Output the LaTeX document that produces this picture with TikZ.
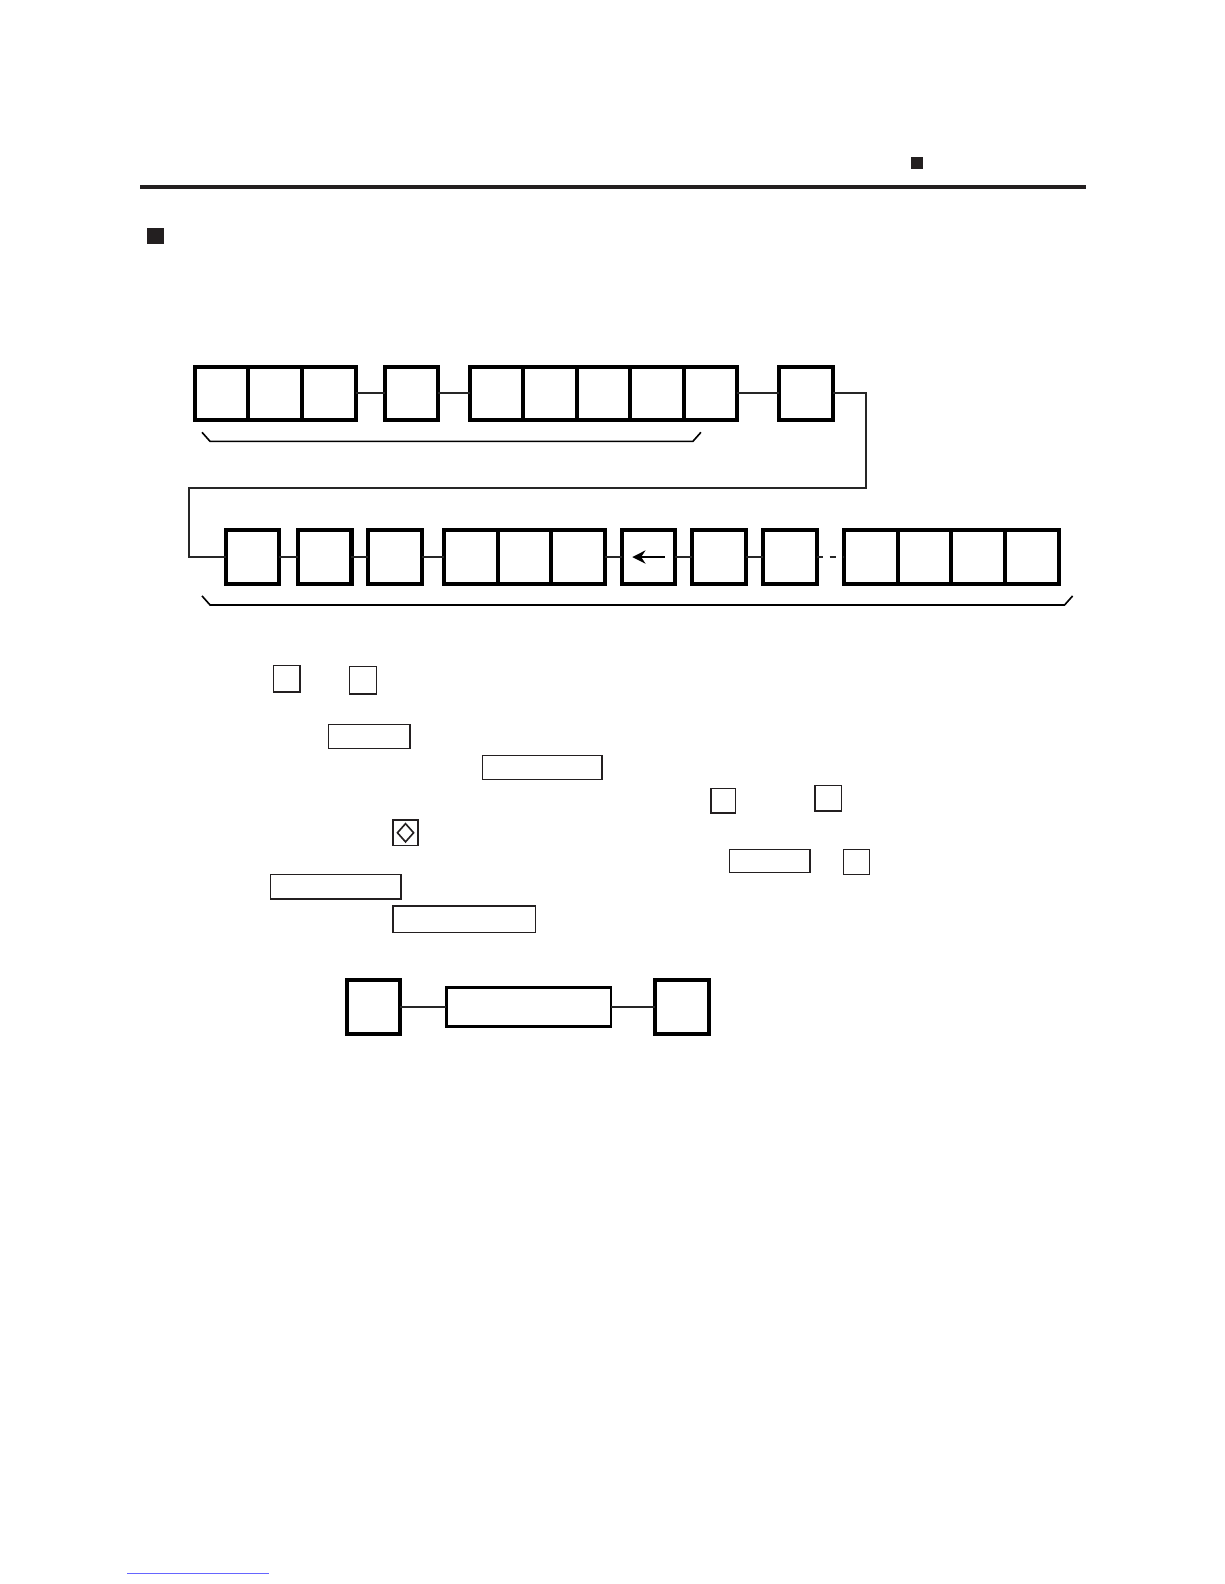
\documentclass[tikz,border=0pt]{standalone}
\usetikzlibrary{arrows.meta}
\definecolor{ink}{HTML}{231F20}
\begin{document}
\begin{tikzpicture}[x=0.5bp,y=-0.5bp,
  cell/.style={draw=black,line width=2bp,minimum width=26.5bp,minimum height=26.5bp,inner sep=0pt,outer sep=0pt},
  keybox/.style={draw=ink,line width=0.65bp,inner sep=0pt,outer sep=0pt},
  wire/.style={line width=1bp,draw=black!85},
  bullet/.style={fill=ink,draw=none,inner sep=0pt,outer sep=0pt}]
\useasboundingbox (0,0) rectangle (1211.9,1568.3);
% header
\node[bullet,minimum size=6bp] (hb) at (908,161) {};
\fill[ink] (139,183) rectangle (1075,187.5);
\node[bullet,minimum size=8bp] (sb) at (154,234) {};
% top row
\foreach \n/\x in {t1/219.5,t2/272.5,t3/325.5,t4/407.5,t5/491.5,t6/544.5,t7/597.5,t8/650.5,t9/703.5,t10/798}
  \node[cell] (\n) at (\x,389.5) {};
\draw[wire] (t3.east) -- (t4.west);
\draw[wire] (t4.east) -- (t5.west);
\draw[wire] (t9.east) -- (t10.west);
\coordinate (c1) at (857,389.5);
\coordinate (c2) at (857,483);
\coordinate (c3) at (187,483);
% bottom row
\foreach \n/\x in {b1/250,b2/321.5,b3/391,b4/466.5,b5/519.5,b6/572.5,b7/642,b8/712,b9/782,b10/862.5,b11/915.5,b12/968.5,b13/1022}
  \node[cell] (\n) at (\x,551.5) {};
\draw[wire] (t10.east) -- (c1) -- (c2) -- (c3) |- (b1.west);
\draw[wire] (b1.east) -- (b2.west);
\draw[wire] (b2.east) -- (b3.west);
\draw[wire] (b3.east) -- (b4.west);
\draw[wire] (b6.east) -- (b7.west);
\draw[wire] (b7.east) -- (b8.west);
\draw[wire] (b8.east) -- (b9.west);
\draw[wire,dash pattern=on 3bp off 3.5bp] (b9.east) -- (b10.west);
\draw[line width=1.3bp,-{Stealth[length=6.5bp,width=6.5bp]}] ([xshift=8bp]b7.center) -- ([xshift=-8bp]b7.center);
% braces
\draw[line width=0.8bp] (200,428) -- (208,437) -- (686,437) -- (694,428);
\draw[line width=0.8bp] (200,590) -- (208,599) -- (1054,599) -- (1062,590);
% small key boxes
\node[keybox,minimum width=13bp,minimum height=13bp] (k1) at (284,672) {};
\node[keybox,minimum width=13.5bp,minimum height=13.5bp] (k2) at (359.5,673.5) {};
\node[keybox,minimum width=40.5bp,minimum height=12bp] (k3) at (365.5,729) {};
\node[keybox,minimum width=59bp,minimum height=12bp] (k4) at (537,760) {};
\node[keybox,minimum width=12bp,minimum height=12bp] (k5) at (716,793) {};
\node[keybox,minimum width=13bp,minimum height=12.5bp] (k6) at (820,790.5) {};
\node[keybox,minimum width=12.5bp,minimum height=12.5bp] (k7) at (401.5,824.5) {};
\draw[ink,line width=0.8bp] ([yshift=-4.5bp]k7.center) -- ([xshift=4bp]k7.center) -- ([yshift=4.5bp]k7.center) -- ([xshift=-4bp]k7.center) -- cycle;
\node[keybox,minimum width=40bp,minimum height=11.5bp] (k8) at (762,852.5) {};
\node[keybox,minimum width=13bp,minimum height=12.5bp] (k9) at (848,853.5) {};
\node[keybox,minimum width=64.5bp,minimum height=12bp] (k10) at (332.5,878) {};
\node[keybox,minimum width=70.5bp,minimum height=13bp] (k11) at (459.5,910) {};
% lower diagram
\node[cell] (d1) at (370,997) {};
\node[draw=black,line width=1.25bp,minimum width=81.5bp,minimum height=19.5bp,inner sep=0pt,outer sep=0pt] (d2) at (523.5,997) {};
\node[cell] (d3) at (675,997) {};
\draw[wire] (d1.east) -- (d2.west);
\draw[wire] (d2.east) -- (d3.west);
% footer rule
\draw[blue!60,line width=0.4bp] (126,1558) -- (266,1558);
\end{tikzpicture}
\end{document}
